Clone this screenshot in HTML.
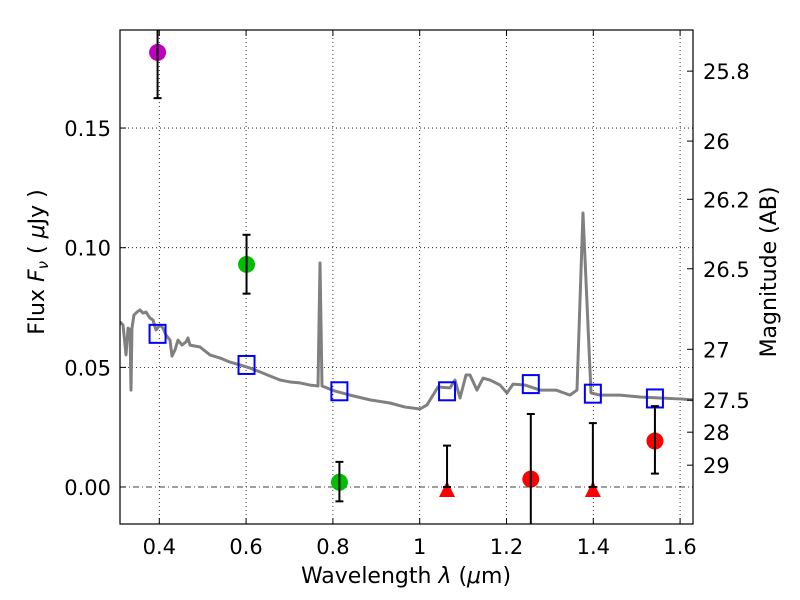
<!DOCTYPE html>
<html><head><meta charset="utf-8"><style>
body{margin:0;background:#fff}
svg{display:block;font-family:"DejaVu Sans","Liberation Sans",sans-serif}
</style></head><body>
<svg id="chart" width="800" height="600" viewBox="0 0 800 600"></svg>
<script>
const xTicks=[0.4,0.6,0.8,1.0,1.2,1.4,1.6];
const xTickLabels=["0.4","0.6","0.8","1","1.2","1.4","1.6"];
const yTicks=[0.00,0.05,0.10,0.15];
const yTickLabels=["0.00","0.05","0.10","0.15"];
const magTicks=[25.8,26,26.2,26.5,27,27.5,28,29];
const magTickLabels=["25.8","26","26.2","26.5","27","27.5","28","29"];
const specWave=[0.3094,0.3164,0.3233,0.328,0.3325,0.3348,0.337,0.3417,0.3486,0.3555,0.3624,0.3694,0.3786,0.3855,0.3924,0.4016,0.4085,0.4154,0.4246,0.4292,0.4362,0.4431,0.4523,0.4615,0.4661,0.4707,0.4938,0.5168,0.5399,0.5629,0.5859,0.609,0.632,0.655,0.6781,0.7011,0.7242,0.7472,0.7657,0.7703,0.7749,0.8048,0.8394,0.8855,0.9316,0.9661,1.0007,1.0168,1.0422,1.0698,1.0813,1.0929,1.1067,1.1159,1.132,1.1459,1.162,1.1851,1.2012,1.215,1.2427,1.2772,1.314,1.3463,1.3624,1.3762,1.3947,1.4154,1.4615,1.5076,1.5537,1.5998,1.6297];
const specFlux=[0.069,0.0677,0.0552,0.0664,0.0656,0.0405,0.0664,0.0719,0.0731,0.074,0.0727,0.0731,0.0706,0.0698,0.0656,0.0677,0.0664,0.0635,0.0614,0.0547,0.0573,0.0614,0.0593,0.0606,0.0623,0.0593,0.0585,0.0552,0.0539,0.0522,0.051,0.0497,0.0481,0.0464,0.0447,0.0439,0.0435,0.0426,0.0422,0.0936,0.0422,0.0401,0.0384,0.0364,0.0351,0.0334,0.0326,0.0343,0.0418,0.0414,0.0447,0.0372,0.0468,0.0468,0.0405,0.0455,0.0447,0.0426,0.0393,0.043,0.0426,0.0405,0.0405,0.0384,0.0405,0.1145,0.0393,0.0384,0.0384,0.0376,0.0372,0.0368,0.0364];
const bandWave=[0.396,0.601,0.815,1.063,1.256,1.399,1.542];
const modelFlux=[0.064,0.051,0.040,0.040,0.043,0.039,0.037];
const obsFlux=[0.1816,0.093,0.002,0.0,0.0033,0.0,0.0192];
const obsLow=[0.1625,0.0808,-0.006,0.0,-0.03,0.0,0.0056];
const obsHigh=[0.21,0.1054,0.0105,0.0173,0.0305,0.0267,0.0338];
const obsColor=["#bf00bf","#00bf00","#00bf00","#ff0000","#ff0000","#ff0000","#ff0000"];
const obsUpperLimit=[false,false,false,true,false,true,false];

const L=120,R=693,T=30,B=524;
const x=v=>159.3+(v-0.4)*434;
const y=v=>487-v*2393;
const ns="http://www.w3.org/2000/svg";
const svg=document.getElementById('chart');
function mk(tag,attrs,parent){const e=document.createElementNS(ns,tag);for(const k in attrs)e.setAttribute(k,attrs[k]);(parent||svg).appendChild(e);return e;}
const defs=mk('defs',{});const cp=mk('clipPath',{id:'clip'},defs);mk('rect',{x:L,y:T,width:R-L,height:B-T},cp);
const plot=mk('g',{'clip-path':'url(#clip)'});

xTicks.forEach((v,i)=>{const g=mk('line',{x1:x(v),x2:x(v),y1:T,y2:B,stroke:'#000','stroke-width':0.8,'stroke-dasharray':'1,3'},plot);

});
yTicks.forEach((v,i)=>{if(v===0)return;const g=mk('line',{x1:L,x2:R,y1:y(v),y2:y(v),stroke:'#000','stroke-width':0.8,'stroke-dasharray':'1,3'},plot);

});
const zl=mk('line',{x1:L,x2:R,y1:y(0),y2:y(0),stroke:'#000','stroke-width':0.8,'stroke-dasharray':'6,3,1,3'},plot);



const sp=mk('polyline',{points:specWave.map((w,i)=>x(w)+','+y(specFlux[i])).join(' '),fill:'none',stroke:'#808080','stroke-width':3,'stroke-linejoin':'round'},plot);



bandWave.forEach((w,i)=>{const s=mk('rect',{x:x(w)-8,y:y(modelFlux[i])-9,width:16,height:18,fill:'none',stroke:'#0000ff','stroke-width':2},plot);

});

bandWave.forEach((w,i)=>{const cx=x(w);
let m;
if(obsUpperLimit[i]){const cy=y(obsFlux[i])+3;m=mk('polygon',{points:`${cx},${cy-9} ${cx-8},${cy+7} ${cx+8},${cy+7}`,fill:obsColor[i]},plot);}
else{m=mk('circle',{cx:cx,cy:y(obsFlux[i]),r:8.5,fill:obsColor[i]},plot);}

const eb=mk('g',{stroke:'#000','stroke-width':2},plot);


mk('line',{x1:cx,x2:cx,y1:y(obsLow[i]),y2:y(obsHigh[i])},eb);
mk('line',{x1:cx-4,x2:cx+4,y1:y(obsLow[i]),y2:y(obsLow[i])},eb);
mk('line',{x1:cx-4,x2:cx+4,y1:y(obsHigh[i]),y2:y(obsHigh[i])},eb);});

const fr=mk('rect',{x:L,y:T,width:R-L,height:B-T,fill:'none',stroke:'#000','stroke-width':1.2});



xTicks.forEach((v,i)=>{mk('line',{x1:x(v),x2:x(v),y1:B,y2:B-6,stroke:'#000'});mk('line',{x1:x(v),x2:x(v),y1:T,y2:T+6,stroke:'#000'});
const t=mk('text',{x:x(v),y:B+30,'text-anchor':'middle','font-size':21});t.textContent=xTickLabels[i];

});
yTicks.forEach((v,i)=>{mk('line',{x1:L,x2:L+6,y1:y(v),y2:y(v),stroke:'#000'});
const t=mk('text',{x:L-9,y:y(v)+8,'text-anchor':'end','font-size':21});t.textContent=yTickLabels[i];

});
magTicks.forEach((m,i)=>{const yy=y(Math.pow(10,(23.9-m)/2.5));mk('line',{x1:R,x2:R-6,y1:yy,y2:yy,stroke:'#000'});
const t=mk('text',{x:R+10,y:yy+8,'font-size':21});t.textContent=magTickLabels[i];

});
</script>
<svg style="position:absolute;left:0;top:0" width="800" height="600">
<text x="406" y="583" text-anchor="middle" font-size="22" font-family="DejaVu Sans, Liberation Sans, sans-serif">Wavelength  <tspan font-style="italic">λ</tspan> (<tspan font-style="italic">μ</tspan>m)</text>
<text transform="translate(44,262) rotate(-90)" text-anchor="middle" font-size="22" font-family="DejaVu Sans, Liberation Sans, sans-serif">Flux  <tspan font-style="italic">F</tspan><tspan font-style="italic" font-size="15" dy="4">ν</tspan><tspan dy="-4">  ( </tspan><tspan font-style="italic">μ</tspan>Jy )</text>
<text transform="translate(776,272) rotate(-90)" text-anchor="middle" font-size="22" font-family="DejaVu Sans, Liberation Sans, sans-serif">Magnitude (AB)</text>
</svg>
</body></html>
